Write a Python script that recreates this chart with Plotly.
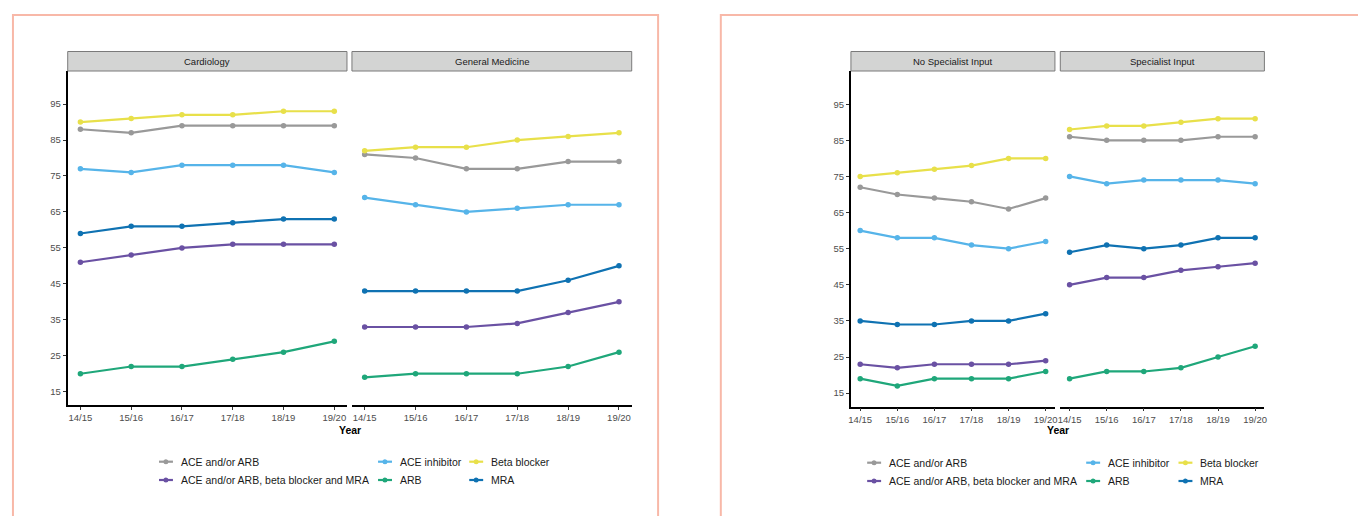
import plotly.graph_objects as go

W, H = 1358, 516

years = ["14/15", "15/16", "16/17", "17/18", "18/19", "19/20"]
series_names = ["ACE and/or ARB", "ACE and/or ARB, beta blocker and MRA", "ACE inhibitor",
                "ARB", "Beta blocker", "MRA"]
series_colors = {
    "ACE and/or ARB": "#999999",
    "ACE and/or ARB, beta blocker and MRA": "#6a51a3",
    "ACE inhibitor": "#56B4E9",
    "ARB": "#1FA77A",
    "Beta blocker": "#E8E04A",
    "MRA": "#0F72B2",
}

cardiology = {
    "ACE and/or ARB": [88, 87, 89, 89, 89, 89],
    "ACE and/or ARB, beta blocker and MRA": [51, 53, 55, 56, 56, 56],
    "ACE inhibitor": [77, 76, 78, 78, 78, 76],
    "ARB": [20, 22, 22, 24, 26, 29],
    "Beta blocker": [90, 91, 92, 92, 93, 93],
    "MRA": [59, 61, 61, 62, 63, 63],
}
general_medicine = {
    "ACE and/or ARB": [81, 80, 77, 77, 79, 79],
    "ACE and/or ARB, beta blocker and MRA": [33, 33, 33, 34, 37, 40],
    "ACE inhibitor": [69, 67, 65, 66, 67, 67],
    "ARB": [19, 20, 20, 20, 22, 26],
    "Beta blocker": [82, 83, 83, 85, 86, 87],
    "MRA": [43, 43, 43, 43, 46, 50],
}
no_specialist = {
    "ACE and/or ARB": [72, 70, 69, 68, 66, 69],
    "ACE and/or ARB, beta blocker and MRA": [23, 22, 23, 23, 23, 24],
    "ACE inhibitor": [60, 58, 58, 56, 55, 57],
    "ARB": [19, 17, 19, 19, 19, 21],
    "Beta blocker": [75, 76, 77, 78, 80, 80],
    "MRA": [35, 34, 34, 35, 35, 37],
}
specialist = {
    "ACE and/or ARB": [86, 85, 85, 85, 86, 86],
    "ACE and/or ARB, beta blocker and MRA": [45, 47, 47, 49, 50, 51],
    "ACE inhibitor": [75, 73, 74, 74, 74, 73],
    "ARB": [19, 21, 21, 22, 25, 28],
    "Beta blocker": [88, 89, 89, 90, 91, 91],
    "MRA": [54, 56, 55, 56, 58, 58],
}
panel_titles = ["Cardiology", "General Medicine", "No Specialist Input", "Specialist Input"]
y_ticks = [15, 25, 35, 45, 55, 65, 75, 85, 95]


def px_x(p):
    return p / W


def px_y(p):
    return 1 - p / H


FONT = "Liberation Sans, Arial, sans-serif"
fig = go.Figure()

panels = [
    (cardiology, "x", "y"),
    (general_medicine, "x2", "y"),
    (no_specialist, "x3", "y2"),
    (specialist, "x4", "y2"),
]
xs = list(range(len(years)))
for data, xa, ya in panels:
    for name in series_names:
        fig.add_trace(go.Scatter(
            x=xs, y=data[name], name=name, mode="lines+markers",
            line=dict(color=series_colors[name], width=2.2),
            marker=dict(color=series_colors[name], size=5.5),
            xaxis=xa, yaxis=ya, showlegend=False))

x_domains = {
    "xaxis": (65, 345.5), "xaxis2": (350.5, 631.5),
    "xaxis3": (851.7, 1056.6), "xaxis4": (1062, 1267),
}
anchors = {"xaxis": "y", "xaxis2": "y", "xaxis3": "y2", "xaxis4": "y2"}
axis_common = dict(showgrid=False, zeroline=False, showline=True, linecolor="black",
                   linewidth=1.8, ticks="outside", ticklen=3, tickcolor="#333333",
                   tickwidth=1, tickfont=dict(family=FONT, size=9.5, color="#4d4d4d"))
for ax, (a, b) in x_domains.items():
    fig.layout[ax] = dict(domain=[px_x(a), px_x(b)], anchor=anchors[ax], range=[-0.25, 5.25],
                          tickvals=xs, ticktext=years, fixedrange=True, **axis_common)
fig.layout["yaxis"] = dict(domain=[px_y(405), px_y(71)], anchor="x", range=[11.3, 104.2],
                           tickvals=y_ticks, fixedrange=True, **axis_common)
fig.layout["yaxis2"] = dict(domain=[px_y(406.5), px_y(71)], anchor="x3", range=[11.3, 104.2],
                            tickvals=y_ticks, fixedrange=True, **axis_common)

shapes = []
annotations = []
# salmon outer boxes
shapes.append(dict(type="rect", xref="paper", yref="paper", x0=px_x(10), x1=px_x(658),
                   y0=px_y(540), y1=px_y(15), line=dict(color="#F8B8A8", width=2),
                   fillcolor="rgba(0,0,0,0)", layer="below"))
shapes.append(dict(type="rect", xref="paper", yref="paper", x0=px_x(721), x1=px_x(1400),
                   y0=px_y(540), y1=px_y(15), line=dict(color="#F8B8A8", width=2),
                   fillcolor="rgba(0,0,0,0)", layer="below"))
# facet strips
for (ax, (a, b)), title in zip(x_domains.items(), panel_titles):
    shapes.append(dict(type="rect", xref="paper", yref="paper", x0=px_x(a), x1=px_x(b),
                       y0=px_y(71), y1=px_y(51.5), fillcolor="#D3D4D3",
                       line=dict(color="#7a7a7a", width=1)))
    annotations.append(dict(text=title, xref="paper", yref="paper", x=px_x((a + b) / 2),
                            y=px_y(61.5), showarrow=False, xanchor="center", yanchor="middle",
                            font=dict(family=FONT, size=9.5, color="#1a1a1a")))
# axis titles
for cx in [(65 + 631.5) / 2, (851.7 + 1267) / 2]:
    annotations.append(dict(text="<b>Year</b>", xref="paper", yref="paper", x=px_x(cx),
                            y=px_y(430), showarrow=False, xanchor="center", yanchor="middle",
                            font=dict(family=FONT, size=10.5, color="black")))

# legends (ggplot-style keys: short line with a dot), three columns x two rows
legend_layout = {
    "ACE and/or ARB": (0, 0), "ACE and/or ARB, beta blocker and MRA": (0, 1),
    "ACE inhibitor": (1, 0), "ARB": (1, 1),
    "Beta blocker": (2, 0), "MRA": (2, 1),
}
legend_blocks = [
    ([177.7, 397.7, 489.3], [461.7, 480]),
    ([889, 1109, 1201.7], [462.7, 481]),
]
for col_x, row_y in legend_blocks:
    for name in series_names:
        c, r = legend_layout[name]
        tx, ty = col_x[c], row_y[r]
        color = series_colors[name]
        shapes.append(dict(type="line", xref="paper", yref="paper",
                           x0=px_x(tx - 21), x1=px_x(tx - 7), y0=px_y(ty), y1=px_y(ty),
                           line=dict(color=color, width=2.2)))
        shapes.append(dict(type="circle", xref="paper", yref="paper",
                           x0=px_x(tx - 16.5), x1=px_x(tx - 11.5),
                           y0=px_y(ty + 2.5), y1=px_y(ty - 2.5),
                           fillcolor=color, line=dict(color=color, width=0)))
        annotations.append(dict(text=name, xref="paper", yref="paper", x=px_x(tx - 1),
                                y=px_y(ty), showarrow=False, xanchor="left", yanchor="middle",
                                font=dict(family=FONT, size=10.5, color="#1a1a1a")))

fig.update_layout(shapes=shapes, annotations=annotations)
fig.update_layout(width=W, height=H, margin=dict(l=0, r=0, t=0, b=0),
                  paper_bgcolor="white", plot_bgcolor="white",
                  font=dict(family=FONT), showlegend=False)
fig.write_html("out.html", config={"displayModeBar": False},
               post_script="document.body.style.margin='0';document.body.style.overflow='hidden';")
